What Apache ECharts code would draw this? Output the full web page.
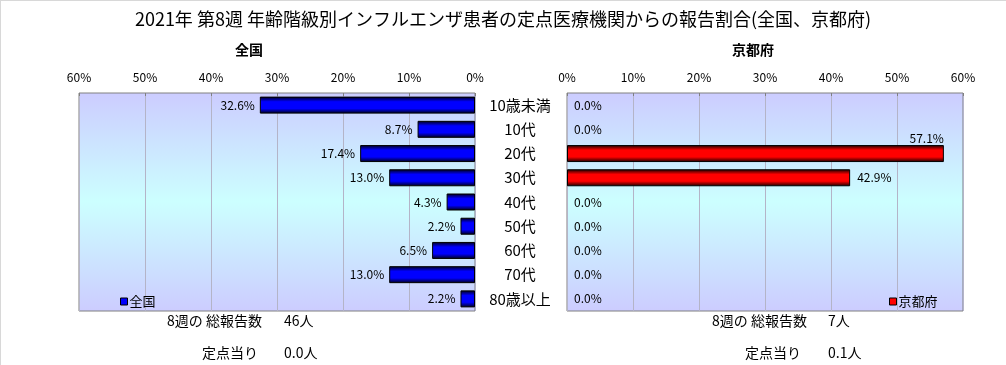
<!DOCTYPE html>
<html><head><meta charset="utf-8">
<script src="https://cdn.jsdelivr.net/npm/echarts@6/dist/echarts.min.js"></script>
<style>html,body{margin:0;padding:0;background:#fff}#c{width:1006px;height:365px}</style>
</head><body><div id="c"></div>
<script>
const categories = ['10歳未満','10代','20代','30代','40代','50代','60代','70代','80歳以上'];
const nationalValues = [32.6, 8.7, 17.4, 13.0, 4.3, 2.2, 6.5, 13.0, 2.2];
const kyotoValues = [0.0, 0.0, 57.1, 42.9, 0.0, 0.0, 0.0, 0.0, 0.0];
const tickLabelFmt = v => v + '%';
const titleText = '2021年 第8週 年齢階級別インフルエンザ患者の定点医療機関からの報告割合(全国、京都府)';
const leftTotals = ['8週の 総報告数', '46人', '定点当り', '0.0人'];
const rightTotals = ['8週の 総報告数', '7人', '定点当り', '0.1人'];

const FONT = '"Noto Sans CJK JP", sans-serif';
const bg = {type:'linear', x:0, y:0, x2:0, y2:1, colorStops:[
  {offset:0, color:'#ccccff'}, {offset:0.5, color:'#ccffff'}, {offset:1, color:'#ccccff'}]};
const grad = (dark, bright) => ({type:'linear', x:0, y:0, x2:0, y2:1, colorStops:[
  {offset:0, color:dark}, {offset:0.3, color:bright}, {offset:0.7, color:bright}, {offset:1, color:dark}]});

const chart = echarts.init(document.getElementById('c'));
const gridCommon = {top:93, height:218, width:396, show:true, borderColor:'#808080', borderWidth:1, backgroundColor:bg};
const xCommon = {type:'value', min:0, max:60, interval:10, position:'top',
  axisLabel:{formatter:tickLabelFmt, color:'#000', fontSize:12, fontFamily:FONT, margin:10},
  axisLine:{show:false}, axisTick:{show:true, inside:true, length:3, lineStyle:{color:'#808080'}},
  splitLine:{show:true, lineStyle:{color:'#b4b4c8', width:1}}};
const labelFmt = p => p.value.toFixed(1) + '%';
const TF = '14px ' + FONT;

chart.setOption({
  animation:false,
  textStyle:{fontFamily:FONT},
  title:[
    {text:titleText, left:'center', top:5, textStyle:{fontSize:18, fontWeight:'normal', color:'#000', fontFamily:FONT}},
    {text:'全国', left:244, top:38, textAlign:'center', textStyle:{fontSize:14, fontWeight:'bold', color:'#000', fontFamily:FONT}},
    {text:'京都府', left:748, top:38, textAlign:'center', textStyle:{fontSize:14, fontWeight:'bold', color:'#000', fontFamily:FONT}}
  ],
  legend:[
    {data:['全国'], left:115, top:290, icon:'rect', itemWidth:7, itemHeight:7, itemGap:2,
     itemStyle:{color:'#0000ff', borderColor:'#000', borderWidth:1},
     textStyle:{fontSize:13, color:'#000', fontFamily:FONT, padding:[0,0,0,-3]}},
    {data:['京都府'], left:884, top:290, icon:'rect', itemWidth:7, itemHeight:7, itemGap:2,
     itemStyle:{color:'#ff0000', borderColor:'#000', borderWidth:1},
     textStyle:{fontSize:13, color:'#000', fontFamily:FONT, padding:[0,0,0,-3]}}
  ],
  grid:[Object.assign({left:79}, gridCommon), Object.assign({left:567}, gridCommon)],
  xAxis:[Object.assign({gridIndex:0, inverse:true}, xCommon), Object.assign({gridIndex:1}, xCommon)],
  yAxis:[
    {type:'category', gridIndex:0, data:categories, inverse:true, position:'right',
     axisLine:{show:false}, axisTick:{show:false}, splitLine:{show:false},
     axisLabel:{align:'center', margin:45, color:'#000', fontSize:15, fontFamily:FONT}},
    {type:'category', gridIndex:1, data:categories, inverse:true,
     axisLine:{show:false}, axisTick:{show:false}, splitLine:{show:false}, axisLabel:{show:false}}
  ],
  series:[
    {name:'全国', type:'bar', xAxisIndex:0, yAxisIndex:0, data:nationalValues, barWidth:17,
     itemStyle:{color:grad('#000010','#0000ff'), borderColor:'#000', borderWidth:1},
     label:{show:true, position:'left', distance:5, formatter:labelFmt, color:'#000', fontSize:12, fontFamily:FONT}},
    {name:'京都府', type:'bar', xAxisIndex:1, yAxisIndex:1, barWidth:17,
     data:kyotoValues.map(v => v > 50 ? {value:v, label:{position:['100%', -1], align:'right', verticalAlign:'bottom'}}
                            : (v === 0 ? {value:v, itemStyle:{borderWidth:0}} : v)),
     itemStyle:{color:grad('#100000','#ff0000'), borderColor:'#000', borderWidth:1},
     label:{show:true, position:'right', distance:7, formatter:labelFmt, color:'#000', fontSize:12, fontFamily:FONT}}
  ],
  graphic:[
    {type:'line', shape:{x1:0, y1:0.5, x2:1006, y2:0.5}, style:{stroke:'#d8d8d8', lineWidth:1}},
    {type:'line', shape:{x1:0.5, y1:0, x2:0.5, y2:365}, style:{stroke:'#d8d8d8', lineWidth:1}},
    {type:'text', x:262, y:321, style:{text:leftTotals[0], textAlign:'right', textVerticalAlign:'middle', font:TF, fill:'#000'}},
    {type:'text', x:284, y:321, style:{text:leftTotals[1], textAlign:'left', textVerticalAlign:'middle', font:TF, fill:'#000'}},
    {type:'text', x:258, y:353, style:{text:leftTotals[2], textAlign:'right', textVerticalAlign:'middle', font:TF, fill:'#000'}},
    {type:'text', x:284, y:353, style:{text:leftTotals[3], textAlign:'left', textVerticalAlign:'middle', font:TF, fill:'#000'}},
    {type:'text', x:807, y:321, style:{text:rightTotals[0], textAlign:'right', textVerticalAlign:'middle', font:TF, fill:'#000'}},
    {type:'text', x:828, y:321, style:{text:rightTotals[1], textAlign:'left', textVerticalAlign:'middle', font:TF, fill:'#000'}},
    {type:'text', x:801, y:353, style:{text:rightTotals[2], textAlign:'right', textVerticalAlign:'middle', font:TF, fill:'#000'}},
    {type:'text', x:828, y:353, style:{text:rightTotals[3], textAlign:'left', textVerticalAlign:'middle', font:TF, fill:'#000'}}
  ]
});
</script></body></html>
